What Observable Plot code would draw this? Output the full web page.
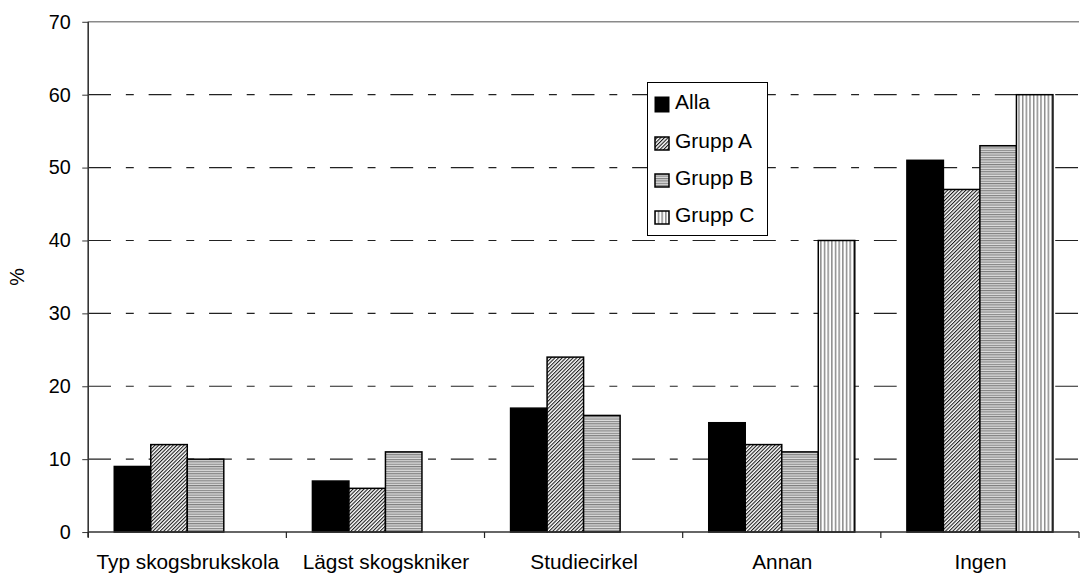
<!DOCTYPE html>
<html>
<head>
<meta charset="utf-8">
<script src="https://cdn.jsdelivr.net/npm/d3@7"></script>
<script src="https://cdn.jsdelivr.net/npm/@observablehq/plot@0.6"></script>
<style>
  html, body { margin: 0; padding: 0; background: #fff; overflow: hidden; width: 1081px; height: 578px; }
  #wrap { position: relative; width: 1081px; height: 578px; overflow: hidden; font-family: "Liberation Sans", Arial, sans-serif; }
  #legend { position: absolute; left: 647px; top: 82px; width: 121px; height: 154px; border: 1px solid #000; background: #fff; box-sizing: border-box; }
  .row { position: absolute; left: 0; height: 24px; width: 119px; }
  .row svg { position: absolute; left: 6px; top: 0; }
  .row span { position: absolute; left: 27px; top: 0; font-size: 21px; line-height: 24px; color: #000; white-space: nowrap; }
</style>
</head>
<body>
<svg width="0" height="0" style="position:absolute">
  <defs>
    <pattern id="pA" width="2.6" height="2.6" patternUnits="userSpaceOnUse" patternTransform="rotate(45)">
      <rect width="2.6" height="2.6" fill="#ffffff"/>
      <rect width="1.1" height="2.6" fill="#1a1a1a"/>
    </pattern>
    <pattern id="pB" width="4" height="2.4" patternUnits="userSpaceOnUse">
      <rect width="4" height="2.4" fill="#dcdcdc"/>
      <rect width="4" height="1.1" fill="#7f7f7f"/>
    </pattern>
    <pattern id="pC" width="3.7" height="4" patternUnits="userSpaceOnUse">
      <rect width="3.7" height="4" fill="#ffffff"/>
      <rect width="1.5" height="4" fill="#8a8a8a"/>
    </pattern>
  </defs>
</svg>
<div id="wrap">
  <div id="chart"></div>
  <div id="legend"></div>
</div>
<script>
// ---- data ----
const categories = ["Typ skogsbrukskola", "Lägst skogskniker", "Studiecirkel", "Annan", "Ingen"];
const groups = ["Alla", "Grupp A", "Grupp B", "Grupp C"];
const valuesAlla   = [9, 7, 17, 15, 51];
const valuesGruppA = [12, 6, 24, 12, 47];
const valuesGruppB = [10, 11, 16, 11, 53];
const valuesGruppC = [null, null, null, 40, 60];
const yTicks = [0, 10, 20, 30, 40, 50, 60, 70];
const gridTicks = [10, 20, 30, 40, 50, 60];
const topTick = 70;
const groupFills = ["#000000", "url(#pA)", "url(#pB)", "url(#pC)"];

const series = [valuesAlla, valuesGruppA, valuesGruppB, valuesGruppC];
const data = [];
categories.forEach((c, i) => {
  groups.forEach((g, j) => {
    const v = series[j][i];
    if (v != null) data.push({category: c, group: g, value: v});
  });
});

const W = 1091, H = 578;
const plot = Plot.plot({
  width: W,
  height: H,
  marginLeft: 87,
  marginRight: 0,
  marginTop: 22,
  marginBottom: 41,
  style: {fontFamily: "'Liberation Sans', Arial, sans-serif", background: "white", color: "#000"},
  fx: {domain: categories, padding: 0, axis: null, label: null},
  x: {domain: groups, paddingInner: 0, paddingOuter: 0.7135, axis: null, round: false},
  y: {domain: [0, 70], axis: null},
  color: {domain: groups, range: groupFills},
  marks: [
    Plot.barY(data, {fx: "category", x: "group", y: "value", fill: "group", stroke: "#000", strokeWidth: 1.5, inset: 0}),
    Plot.axisY({ticks: yTicks, tickSize: 6, tickPadding: 12, fontSize: 20, label: null, stroke: "#333"}),
    Plot.axisFx({anchor: "bottom", tickSize: 0, tickPadding: 22, fontSize: 21, label: null})
  ]
});

document.getElementById("chart").appendChild(plot);

// ---- rules and axis lines drawn via the plot's scales ----
const svg = d3.select(plot);
const y = plot.scale("y");
const fx = plot.scale("fx");
const x0 = fx.apply(categories[0]);
const xEnd = fx.apply(categories[categories.length - 1]) + fx.bandwidth;
const y0 = y.apply(0);

const grid = svg.insert("g", "g");
grid.selectAll("line.grid")
  .data(gridTicks)
  .join("line")
  .attr("x1", x0).attr("x2", xEnd)
  .attr("y1", d => y.apply(d)).attr("y2", d => y.apply(d))
  .attr("stroke", "#222").attr("stroke-width", 1.2)
  .attr("stroke-dasharray", "23,15,8,15");
grid.append("line")
  .attr("x1", x0).attr("x2", xEnd)
  .attr("y1", y.apply(topTick)).attr("y2", y.apply(topTick))
  .attr("stroke", "#8a8a8a").attr("stroke-width", 1.5);

const axes = svg.append("g");
axes.append("line")
  .attr("x1", x0).attr("x2", x0)
  .attr("y1", y.apply(topTick)).attr("y2", y0 + 5)
  .attr("stroke", "#333").attr("stroke-width", 1.6);
axes.append("line")
  .attr("x1", x0).attr("x2", xEnd)
  .attr("y1", y0).attr("y2", y0)
  .attr("stroke", "#333").attr("stroke-width", 1.6);
const bounds = categories.map(c => fx.apply(c)).concat([xEnd]);
axes.selectAll("line.ctick")
  .data(bounds)
  .join("line")
  .attr("x1", d => d).attr("x2", d => d)
  .attr("y1", y0).attr("y2", y0 + 6)
  .attr("stroke", "#222").attr("stroke-width", 1.2);

svg.append("text")
  .attr("transform", "translate(17," + ((y.apply(topTick) + y0) / 2) + ") rotate(-90)")
  .attr("text-anchor", "middle")
  .attr("dy", "0.35em")
  .attr("font-size", 20)
  .attr("fill", "#000")
  .text("%");

// ---- legend ----
const legend = d3.select("#legend");
const rowTops = [7, 46, 83, 120];
groups.forEach((g, i) => {
  const row = legend.append("div").attr("class", "row").style("top", rowTops[i] + "px");
  const s = row.append("svg").attr("width", 16).attr("height", 24);
  if (i === 0) {
    s.append("rect").attr("x", 0.5).attr("y", 6.5).attr("width", 15).attr("height", 16).attr("fill", groupFills[i]);
  } else {
    s.append("rect").attr("x", 1).attr("y", 8).attr("width", 14).attr("height", 13)
      .attr("fill", groupFills[i]).attr("stroke", "#000").attr("stroke-width", 1.5);
  }
  row.append("span").text(g);
});
</script>
</body>
</html>
